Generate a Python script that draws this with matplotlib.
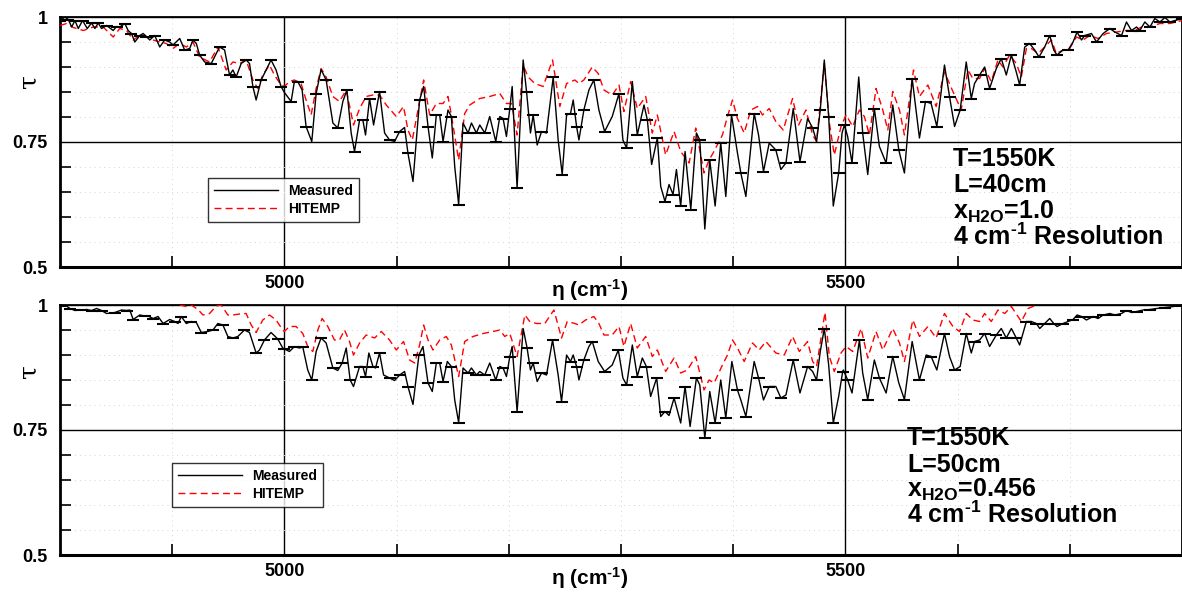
import numpy as np
import matplotlib
matplotlib.use("Agg")
import matplotlib.pyplot as plt
from matplotlib.ticker import FixedLocator

plt.rcParams['font.family'] = ['Liberation Sans', 'DejaVu Sans']
plt.rcParams['font.weight'] = 'bold'
plt.rcParams['mathtext.fontset'] = 'custom'
plt.rcParams['mathtext.rm'] = 'Liberation Sans:bold'
plt.rcParams['mathtext.it'] = 'Liberation Sans:bold'
plt.rcParams['mathtext.bf'] = 'Liberation Sans:bold'

# ---- panel 1: L=40cm, x=1.0 ----
meas1_nu = [4800, 4804.4, 4807.4, 4810.4, 4813.3, 4816.3, 4820.1, 4824.3, 4828.1, 4831.1,
            4834.1, 4837.0, 4841.5, 4847.4, 4850.4, 4853.3, 4857.8, 4860.7, 4863.7, 4866.7,
            4871.1, 4874.1, 4877.0, 4880.0, 4884.4, 4888.9, 4893.3, 4897.8, 4900.7, 4906.7,
            4911.1, 4915.6, 4918.5, 4921.5, 4924.4, 4928.9, 4934.8, 4939.3, 4942.2, 4946.7,
            4951.1, 4954.1, 4957.0, 4961.5, 4965.9, 4968.9, 4971.9, 4974.8, 4979.3, 4983.7,
            4988.1, 4992.6, 4997.0,
            5000.0, 5006.0, 5008.9, 5011.9, 5015.8, 5019.3, 5024.4, 5028.3, 5032.7, 5037.2,
            5043.2, 5047.6, 5052.1, 5055.7, 5059.5, 5062.5, 5067.0, 5069.9, 5072.3, 5075.9,
            5079.5, 5084.8, 5089.3, 5093.7, 5098.2, 5102.7, 5107.1, 5110.1, 5114.6, 5120.5,
            5124.1, 5128.0, 5131.8, 5135.4, 5138.4, 5141.4, 5145.8, 5148.8, 5151.8, 5155.3,
            5159.2, 5163.7, 5166.7, 5171.1, 5174.1, 5178.6, 5183.0, 5188.4, 5192.0, 5194.9,
            5197.9, 5200.9, 5203.0, 5207.4, 5212.8, 5215.8, 5219.3, 5221.7, 5225.3, 5229.2,
            5233.6, 5239.6, 5244.0, 5247.6, 5251.5, 5255.0, 5257.4, 5260.4,
            5262.5, 5266.9, 5271.4, 5275.8, 5280.3, 5285.4, 5292.2, 5298.2, 5301.7, 5305.0,
            5310.1, 5314.5, 5320.5, 5323.5, 5327.3, 5332.4, 5335.4, 5339.2, 5342.8, 5346.4,
            5349.4, 5353.2, 5357.1, 5362.2, 5367.2, 5370.2, 5374.7, 5379.1, 5383.9, 5388.9,
            5393.4, 5398.5, 5403.8, 5406.8, 5411.3, 5418.7, 5422.6, 5427.0, 5432.1, 5438.0,
            5442.5, 5447.0, 5453.5, 5459.5, 5466.3, 5470.8, 5474.3, 5477.6, 5481.2, 5485.1,
            5489.2, 5494.0, 5497.0,
            5499.1, 5502.0, 5505.9, 5511.9, 5515.4, 5519.9, 5525.8, 5530.3, 5536.3, 5542.2,
            5547.6, 5552.6, 5559.5, 5566.0, 5571.4, 5576.4, 5581.5, 5588.3, 5592.8, 5597.3,
            5602.3, 5607.7, 5612.2, 5615.1, 5619.6, 5624.1, 5628.5, 5634.5, 5638.9, 5643.4,
            5647.9, 5652.3, 5655.3, 5659.8, 5664.2, 5668.7, 5672.6, 5677.6, 5682.1, 5685.7,
            5688.6, 5694.0, 5698.5, 5702.9, 5706.5, 5710.4, 5713.3, 5719.3, 5723.8, 5729.7,
            5735.7, 5740.1, 5746.1, 5750.5, 5755.0, 5759.5, 5762.4, 5766.9, 5771.4, 5775.8,
            5780.3, 5784.8, 5789.2, 5793.7, 5800.0]
meas1_tau = [0.993, 1.000, 0.995, 0.980, 0.993, 0.977, 0.993, 0.977, 0.988, 0.977,
             0.988, 0.977, 0.983, 0.973, 0.981, 0.980, 0.987, 0.973, 0.967, 0.950,
             0.963, 0.967, 0.961, 0.954, 0.963, 0.940, 0.954, 0.950, 0.944, 0.957,
             0.934, 0.937, 0.954, 0.947, 0.924, 0.910, 0.907, 0.927, 0.940, 0.934,
             0.884, 0.894, 0.880, 0.907, 0.914, 0.907, 0.861, 0.834, 0.874, 0.894,
             0.914, 0.894, 0.861,
             0.849, 0.831, 0.871, 0.871, 0.854, 0.781, 0.751, 0.847, 0.895, 0.874,
             0.788, 0.778, 0.831, 0.854, 0.768, 0.731, 0.794, 0.794, 0.764, 0.837,
             0.784, 0.851, 0.768, 0.754, 0.751, 0.771, 0.779, 0.728, 0.671, 0.834,
             0.861, 0.781, 0.718, 0.804, 0.804, 0.751, 0.814, 0.801, 0.701, 0.625,
             0.788, 0.768, 0.788, 0.768, 0.784, 0.768, 0.801, 0.751, 0.801, 0.797,
             0.761, 0.817, 0.861, 0.658, 0.914, 0.851, 0.768, 0.804, 0.744, 0.771,
             0.768, 0.880, 0.754, 0.685, 0.804, 0.807, 0.834, 0.781,
             0.754, 0.814, 0.854, 0.874, 0.814, 0.771, 0.801, 0.847, 0.754, 0.738,
             0.871, 0.764, 0.824, 0.794, 0.705, 0.758, 0.661, 0.631, 0.665, 0.645,
             0.695, 0.622, 0.731, 0.615, 0.768, 0.754, 0.576, 0.714, 0.622, 0.748,
             0.641, 0.804, 0.728, 0.688, 0.641, 0.807, 0.764, 0.691, 0.748, 0.734,
             0.695, 0.708, 0.817, 0.711, 0.797, 0.778, 0.751, 0.814, 0.914, 0.801,
             0.622, 0.688, 0.768,
             0.784, 0.761, 0.708, 0.880, 0.768, 0.685, 0.817, 0.741, 0.708, 0.824,
             0.734, 0.688, 0.877, 0.758, 0.831, 0.827, 0.781, 0.904, 0.841, 0.781,
             0.814, 0.910, 0.837, 0.867, 0.884, 0.900, 0.857, 0.897, 0.917, 0.884,
             0.924, 0.890, 0.864, 0.940, 0.947, 0.934, 0.920, 0.940, 0.963, 0.934,
             0.924, 0.934, 0.934, 0.950, 0.970, 0.954, 0.963, 0.967, 0.950, 0.967,
             0.977, 0.970, 0.963, 0.990, 0.973, 0.980, 0.973, 0.990, 0.980, 0.997,
             0.990, 0.999, 0.990, 0.993, 0.997]

hit1_nu = [4800, 4805.9, 4811.9, 4820.7, 4829.6, 4838.5, 4847.4, 4853.3, 4859.3, 4865.2,
           4871.1, 4877.0, 4883.0, 4888.9, 4894.8, 4900.7, 4906.7, 4912.6, 4918.5, 4924.4,
           4933.3, 4940.7, 4948.1, 4954.1, 4960.0, 4965.9, 4971.9, 4976.3, 4980.7, 4986.7,
           4991.1, 4997.0,
           5000.0, 5004.5, 5008.9, 5014.9, 5019.3, 5023.8, 5028.3, 5032.7, 5037.2, 5043.2,
           5049.1, 5055.1, 5061.6, 5067.0, 5072.9, 5078.9, 5084.8, 5090.8, 5099.7, 5106.2,
           5110.1, 5114.0, 5119.0, 5124.1, 5129.5, 5135.4, 5141.4, 5145.8, 5148.8, 5155.3,
           5160.7, 5165.2, 5174.1, 5183.0, 5192.0, 5197.9, 5202.4, 5207.4, 5212.8, 5217.2,
           5223.2, 5230.6, 5239.0, 5245.5, 5251.5, 5258.9,
           5262.5, 5266.9, 5274.4, 5279.7, 5284.8, 5292.2, 5298.2, 5302.6, 5308.6, 5314.5,
           5322.0, 5327.9, 5332.4, 5339.8, 5347.3, 5353.2, 5360.7, 5366.6, 5374.0, 5378.5,
           5382.1, 5390.4, 5394.9, 5399.4, 5403.8, 5409.8, 5415.7, 5421.7, 5426.1, 5432.1,
           5438.0, 5444.6, 5452.9, 5458.3, 5464.8, 5470.8, 5474.3, 5481.2, 5485.7, 5490.1,
           5496.1,
           5500.6, 5506.5, 5512.5, 5516.9, 5521.4, 5527.3, 5533.3, 5537.8, 5542.2, 5548.2,
           5552.6, 5560.7, 5566.0, 5573.5, 5580.9, 5588.3, 5595.8, 5603.2, 5609.2, 5613.6,
           5619.6, 5624.1, 5630.0, 5636.0, 5640.4, 5646.4, 5652.3, 5656.8, 5661.3, 5665.7,
           5671.7, 5677.6, 5683.6, 5688.0, 5694.0, 5699.9, 5705.9, 5711.8, 5717.8, 5725.2,
           5732.7, 5741.6, 5750.5, 5758.0, 5763.9, 5771.4, 5780.3, 5789.2, 5800.0]
hit1_tau = [0.983, 0.987, 0.979, 0.973, 0.980, 0.980, 0.960, 0.977, 0.973, 0.954,
            0.963, 0.960, 0.954, 0.950, 0.947, 0.937, 0.947, 0.940, 0.950, 0.920,
            0.910, 0.940, 0.894, 0.910, 0.907, 0.914, 0.874, 0.857, 0.884, 0.904,
            0.884, 0.864,
            0.861, 0.871, 0.874, 0.867, 0.834, 0.804, 0.857, 0.897, 0.880, 0.841,
            0.831, 0.854, 0.784, 0.817, 0.841, 0.844, 0.844, 0.824, 0.801, 0.821,
            0.774, 0.754, 0.814, 0.874, 0.804, 0.827, 0.827, 0.841, 0.804, 0.714,
            0.807, 0.824, 0.837, 0.841, 0.847, 0.827, 0.827, 0.764, 0.904, 0.880,
            0.867, 0.861, 0.914, 0.821, 0.867, 0.874,
            0.867, 0.874, 0.900, 0.887, 0.854, 0.844, 0.864, 0.811, 0.871, 0.817,
            0.841, 0.768, 0.804, 0.724, 0.771, 0.731, 0.708, 0.778, 0.688, 0.714,
            0.728, 0.764, 0.801, 0.834, 0.797, 0.768, 0.814, 0.821, 0.804, 0.817,
            0.791, 0.774, 0.837, 0.784, 0.814, 0.764, 0.751, 0.907, 0.788, 0.724,
            0.781,
            0.804, 0.781, 0.814, 0.801, 0.764, 0.857, 0.814, 0.774, 0.851, 0.814,
            0.764, 0.894, 0.841, 0.864, 0.821, 0.890, 0.851, 0.814, 0.894, 0.877,
            0.877, 0.897, 0.871, 0.914, 0.900, 0.924, 0.907, 0.880, 0.937, 0.937,
            0.927, 0.940, 0.954, 0.927, 0.934, 0.937, 0.960, 0.954, 0.963, 0.957,
            0.967, 0.970, 0.973, 0.973, 0.980, 0.980, 0.987, 0.987, 0.993]

# ---- panel 2: L=50cm, x=0.456 ----
meas2_nu = [4800, 4804.4, 4808.9, 4813.3, 4819.3, 4823.7, 4828.1, 4832.6, 4837.0, 4841.5,
            4848.9, 4854.8, 4859.3, 4862.2, 4865.2, 4871.1, 4875.6, 4878.5, 4883.0, 4887.4,
            4891.9, 4897.8, 4902.2, 4905.2, 4908.1, 4912.6, 4917.0, 4921.5, 4925.9, 4931.9,
            4936.3, 4940.7, 4945.2, 4949.6, 4954.1, 4958.5, 4964.4, 4968.9, 4974.8, 4977.8,
            4982.2, 4988.1, 4994.1, 4998.5,
            5000.0, 5004.5, 5008.9, 5013.4, 5016.4, 5020.8, 5024.4, 5028.3, 5032.7, 5037.2,
            5043.2, 5047.6, 5051.5, 5055.1, 5058.6, 5061.6, 5067.0, 5069.9, 5072.3, 5075.3,
            5078.9, 5081.2, 5084.8, 5088.4, 5093.7, 5098.2, 5102.7, 5107.1, 5110.1, 5114.6,
            5119.9, 5123.5, 5128.0, 5131.8, 5135.4, 5138.4, 5141.4, 5145.2, 5148.8, 5151.8,
            5155.3, 5159.2, 5163.7, 5166.7, 5171.1, 5174.1, 5178.6, 5183.0, 5188.4, 5192.0,
            5194.9, 5197.9, 5200.9, 5203.0, 5207.4, 5212.8, 5216.3, 5219.3, 5221.7, 5225.3,
            5229.2, 5233.6, 5239.0, 5244.0, 5247.0, 5251.5, 5255.0, 5257.4, 5260.4,
            5262.5, 5266.9, 5271.4, 5274.4, 5279.7, 5285.4, 5292.2, 5297.6, 5301.7, 5305.0,
            5310.1, 5314.5, 5319.0, 5322.6, 5326.4, 5331.8, 5335.4, 5339.2, 5342.8, 5347.3,
            5353.2, 5357.1, 5361.6, 5367.2, 5370.2, 5374.7, 5379.1, 5383.9, 5388.9, 5393.4,
            5398.8, 5403.8, 5406.8, 5411.3, 5418.7, 5422.6, 5427.0, 5432.1, 5438.0, 5442.5,
            5447.0, 5453.5, 5459.5, 5466.3, 5470.8, 5474.3, 5477.6, 5481.2, 5485.1, 5489.2,
            5494.0, 5497.6,
            5498.2, 5502.0, 5505.9, 5512.5, 5515.4, 5519.9, 5525.8, 5530.3, 5536.3, 5542.2,
            5547.6, 5552.6, 5559.5, 5566.0, 5572.0, 5576.4, 5581.5, 5588.3, 5592.8, 5597.3,
            5602.3, 5607.7, 5612.2, 5615.1, 5619.6, 5624.1, 5628.5, 5634.5, 5638.9, 5643.4,
            5647.9, 5652.3, 5655.3, 5661.3, 5665.7, 5670.2, 5673.2, 5677.6, 5682.1, 5685.7,
            5688.6, 5694.0, 5698.5, 5702.9, 5706.5, 5710.4, 5714.8, 5720.8, 5725.2, 5729.7,
            5735.7, 5740.1, 5746.1, 5750.5, 5755.0, 5759.5, 5765.4, 5771.4, 5777.3, 5784.8,
            5792.2, 5800.0]
meas2_tau = [0.998, 1.000, 0.993, 0.989, 0.990, 0.991, 0.989, 0.993, 0.989, 0.983,
             0.985, 0.990, 0.989, 0.990, 0.971, 0.980, 0.978, 0.978, 0.973, 0.977,
             0.963, 0.971, 0.967, 0.963, 0.977, 0.963, 0.967, 0.965, 0.945, 0.947,
             0.950, 0.963, 0.960, 0.937, 0.934, 0.937, 0.950, 0.945, 0.904, 0.910,
             0.930, 0.945, 0.932, 0.914,
             0.912, 0.907, 0.917, 0.914, 0.916, 0.870, 0.850, 0.907, 0.934, 0.924,
             0.874, 0.869, 0.884, 0.914, 0.850, 0.837, 0.877, 0.877, 0.857, 0.904,
             0.877, 0.874, 0.904, 0.860, 0.854, 0.849, 0.860, 0.867, 0.837, 0.801,
             0.900, 0.917, 0.844, 0.827, 0.884, 0.884, 0.847, 0.887, 0.877, 0.810,
             0.765, 0.874, 0.864, 0.874, 0.860, 0.867, 0.860, 0.884, 0.850, 0.877,
             0.874, 0.857, 0.897, 0.917, 0.787, 0.953, 0.914, 0.870, 0.884, 0.847,
             0.864, 0.860, 0.930, 0.860, 0.807, 0.900, 0.887, 0.900, 0.877,
             0.850, 0.890, 0.917, 0.927, 0.887, 0.867, 0.880, 0.910, 0.854, 0.840,
             0.920, 0.857, 0.894, 0.877, 0.817, 0.854, 0.777, 0.787, 0.779, 0.814,
             0.764, 0.837, 0.757, 0.854, 0.840, 0.734, 0.827, 0.764, 0.850, 0.774,
             0.887, 0.830, 0.810, 0.777, 0.887, 0.854, 0.810, 0.837, 0.837, 0.814,
             0.820, 0.890, 0.824, 0.877, 0.867, 0.850, 0.907, 0.953, 0.880, 0.764,
             0.817, 0.867,
             0.870, 0.850, 0.824, 0.930, 0.864, 0.811, 0.890, 0.854, 0.824, 0.897,
             0.844, 0.811, 0.927, 0.850, 0.900, 0.897, 0.870, 0.943, 0.897, 0.870,
             0.877, 0.943, 0.904, 0.927, 0.930, 0.943, 0.917, 0.940, 0.953, 0.934,
             0.953, 0.934, 0.920, 0.967, 0.967, 0.963, 0.953, 0.963, 0.973, 0.963,
             0.957, 0.963, 0.967, 0.971, 0.980, 0.977, 0.970, 0.977, 0.973, 0.980,
             0.983, 0.980, 0.983, 0.989, 0.985, 0.987, 0.990, 0.991, 0.993, 0.995,
             0.997, 0.999]

hit2_nu = [4906.7, 4912.6, 4917.0, 4923.0, 4927.4, 4933.3, 4939.3, 4943.7, 4949.6, 4954.1,
           4960.0, 4965.9, 4970.4, 4974.8, 4980.7, 4986.7, 4992.6, 4998.5,
           5000.0, 5004.5, 5010.4, 5016.4, 5020.8, 5025.3, 5029.8, 5033.6, 5038.7, 5044.6,
           5049.1, 5053.6, 5058.0, 5061.6, 5067.0, 5072.9, 5080.4, 5086.3, 5093.7, 5099.7,
           5106.2, 5111.6, 5116.1, 5120.5, 5124.1, 5128.0, 5132.4, 5138.4, 5144.3, 5148.8,
           5155.3, 5160.7, 5168.1, 5177.1, 5186.0, 5192.0, 5196.4, 5200.9, 5207.4, 5214.3,
           5218.7, 5224.7, 5232.1, 5240.2, 5247.0, 5252.1, 5258.9,
           5262.5, 5268.4, 5275.8, 5280.3, 5284.8, 5292.2, 5298.2, 5302.6, 5308.6, 5314.5,
           5322.0, 5327.9, 5332.4, 5339.8, 5347.3, 5353.2, 5359.2, 5366.6, 5374.0, 5378.5,
           5383.0, 5390.4, 5394.9, 5399.4, 5403.8, 5409.8, 5417.2, 5423.2, 5429.1, 5438.0,
           5445.5, 5452.9, 5458.9, 5466.3, 5470.8, 5474.3, 5481.8, 5485.7, 5490.1, 5496.1,
           5500.6, 5506.5, 5514.0, 5519.9, 5527.3, 5533.3, 5542.2, 5548.2, 5552.6, 5560.1,
           5566.0, 5573.5, 5580.9, 5588.3, 5595.8, 5601.7, 5607.7, 5613.6, 5619.6, 5624.1,
           5630.0, 5636.0, 5642.0, 5647.9, 5653.8, 5656.8, 5662.8, 5670.2]
hit2_tau = [1.000, 0.997, 1.000, 0.991, 0.980, 0.983, 0.998, 1.000, 0.980, 0.980,
            0.982, 0.983, 0.960, 0.945, 0.970, 0.980, 0.970, 0.950,
            0.947, 0.957, 0.957, 0.943, 0.917, 0.907, 0.950, 0.973, 0.957, 0.930,
            0.930, 0.950, 0.927, 0.900, 0.924, 0.940, 0.934, 0.947, 0.930, 0.910,
            0.927, 0.890, 0.884, 0.920, 0.960, 0.930, 0.910, 0.930, 0.937, 0.920,
            0.857, 0.927, 0.937, 0.943, 0.947, 0.950, 0.937, 0.943, 0.897, 0.980,
            0.967, 0.963, 0.963, 0.990, 0.934, 0.967, 0.963,
            0.960, 0.970, 0.977, 0.963, 0.940, 0.940, 0.957, 0.917, 0.963, 0.914,
            0.937, 0.897, 0.910, 0.867, 0.894, 0.864, 0.870, 0.897, 0.830, 0.850,
            0.844, 0.880, 0.900, 0.930, 0.914, 0.887, 0.924, 0.910, 0.927, 0.904,
            0.900, 0.937, 0.907, 0.927, 0.887, 0.877, 0.985, 0.897, 0.867, 0.904,
            0.917, 0.907, 0.953, 0.894, 0.947, 0.910, 0.953, 0.924, 0.887, 0.970,
            0.937, 0.957, 0.934, 0.983, 0.957, 0.947, 0.983, 0.970, 0.967, 0.983,
            0.967, 0.990, 0.983, 0.997, 0.977, 0.967, 0.993, 1.000]

panels = [
    (meas1_nu, meas1_tau, hit1_nu, hit1_tau,
     ['T=1550K', 'L=40cm', r'x$_{\rm H2O}$=1.0', r'4 cm$^{\text{-}1}$ Resolution']),
    (meas2_nu, meas2_tau, hit2_nu, hit2_tau,
     ['T=1550K', 'L=50cm', r'x$_{\rm H2O}$=0.456', r'4 cm$^{\text{-}1}$ Resolution']),
]

W, H = 1182, 592
fig = plt.figure(figsize=(W / 100, H / 100), dpi=100)

# axes boxes in pixels: left, bottom(from top)
boxes = [(60, 267), (60, 555)]
legend_pos = [(0.132, 0.356), (0.0998, 0.368)]
text_pos = [(953, [166, 192, 219, 245]), (907, [445, 472, 497, 523])]
tau_ypos = [0.745, 0.735]

for i, (mnu, mtau, hnu, htau, info) in enumerate(panels):
    left, bot = boxes[i]
    ax = fig.add_axes([left / W, 1 - bot / H, (W - left) / W, 250 / H])
    ax.set_xlim(4800, 5800)
    ax.set_ylim(0.5, 1.0)

    ax.plot(mnu, mtau, color='black', lw=1.0, label='Measured', zorder=4)
    ax.plot(mnu[::2], mtau[::2], ls='none', marker='_', ms=9, mew=1.5,
            color='black', zorder=5)
    ax.plot(hnu, htau, color='red', lw=1.0, dashes=(5, 3), label='HITEMP', zorder=3)

    ax.xaxis.set_major_locator(FixedLocator([5000, 5500]))
    ax.xaxis.set_minor_locator(FixedLocator([4900, 5100, 5200, 5300, 5400, 5600, 5700]))
    ax.yaxis.set_major_locator(FixedLocator([0.5, 0.75, 1.0]))
    ax.yaxis.set_minor_locator(FixedLocator([0.55, 0.6, 0.65, 0.7, 0.8, 0.85, 0.9, 0.95]))
    ax.set_yticklabels(['0.5', '0.75', '1'])
    ax.set_xticklabels(['5000', '5500'])
    ax.tick_params(which='major', length=0, labelsize=13, pad=9)
    ax.tick_params(axis='x', which='major', pad=6)
    ax.tick_params(which='minor', direction='in', length=8, width=1.2, color='black')
    for lab in ax.get_xticklabels() + ax.get_yticklabels():
        lab.set_fontweight('bold')

    ax.grid(which='major', color='black', lw=1.0, ls='-', zorder=1)
    ax.grid(which='minor', color='#d4d4d4', lw=0.7, ls=(0, (1, 4)), zorder=1)
    ax.set_axisbelow(True)

    for s in ['top', 'right']:
        ax.spines[s].set_linewidth(1.3)
    ax.spines['left'].set_linewidth(2.0)
    ax.spines['bottom'].set_linewidth(2.2)

    ax.text(0.472, -0.092, r'η (cm$^{\text{-}1}$)', transform=ax.transAxes,
            ha='center', va='center', fontsize=15, fontweight='bold')
    ax.text(-0.028, tau_ypos[i], 'τ', transform=ax.transAxes, rotation=90,
            ha='center', va='center', fontsize=18, family='DejaVu Serif',
            fontweight='normal')

    leg = ax.legend(loc='upper left', bbox_to_anchor=legend_pos[i], fontsize=10,
                    frameon=True, fancybox=False, edgecolor='black',
                    handlelength=4.6, handletextpad=0.7, borderpad=0.45,
                    labelspacing=0.25, borderaxespad=0)
    leg.get_frame().set_linewidth(1.0)
    for t in leg.get_texts():
        t.set_fontweight('bold')

    tx, ys = text_pos[i]
    for line, y in zip(info, ys):
        fig.text(tx / W, 1 - y / H, line, ha='left', va='baseline',
                 fontsize=18, fontweight='bold')

fig.savefig('out.png', dpi=100)
